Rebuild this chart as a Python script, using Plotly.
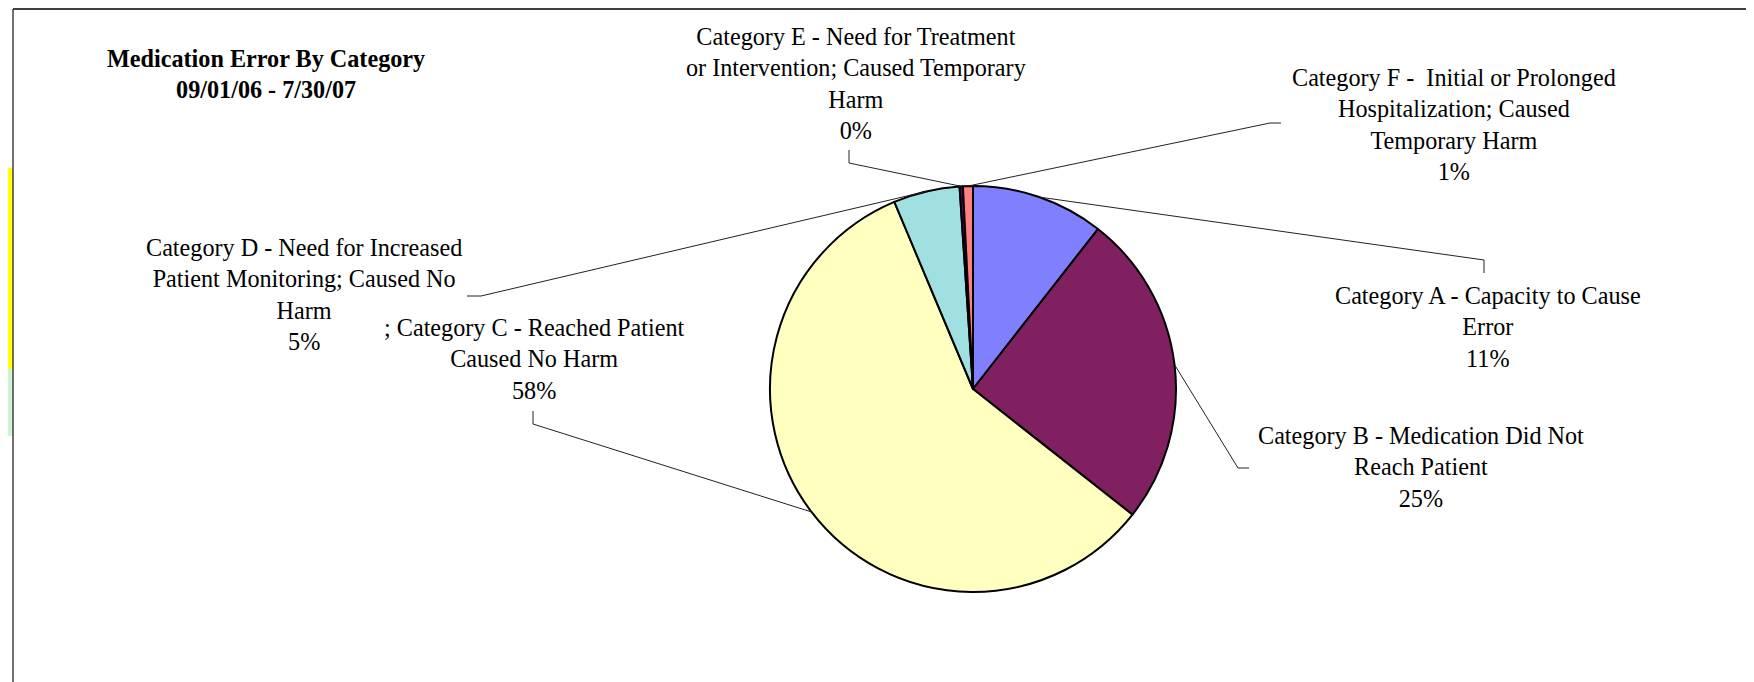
import math
import plotly.graph_objects as go

# DATA
categories = ["Category A", "Category B", "Category C", "Category D", "Category E", "Category F"]
label_text = [
    "Category A - Capacity to Cause<br>Error",
    "Category B - Medication Did Not<br>Reach Patient",
    "; Category C - Reached Patient<br>Caused No Harm",
    "Category D - Need for Increased<br>Patient Monitoring; Caused No<br>Harm",
    "Category E - Need for Treatment<br>or Intervention; Caused Temporary<br>Harm",
    "Category F - \u00a0Initial or Prolonged<br>Hospitalization; Caused<br>Temporary Harm",
]
error_counts = [40, 95, 220, 20, 1, 3]
slice_colors = ["#8080FF", "#802060", "#FFFFC0", "#A0E0E0", "#600060", "#FF8080"]

W, H = 1754, 682
PAGE_OFF = 8  # browser body margin
FONT = "Liberation Serif, Times New Roman, serif"
FSIZE = 24.2

# pie geometry in window pixels
CX, CY, R = 973, 389, 203

def px(x):
    return (x - PAGE_OFF) / W

def py(y):
    return 1 - (y - PAGE_OFF) / H

# label centre, leader elbow, leader end (window pixels)
label_pos = [(1488, 327), (1421, 467), (534, 359), (304, 294), (856, 83), (1454, 125)]
leader = [
    ((1484, 260), (1484, 273)),
    ((1238, 468), (1249, 468)),
    ((533, 424), (533, 411)),
    ((481, 296), (467, 296)),
    ((849, 163), (849, 150)),
    ((1270, 123), (1281, 123)),
]

fig = go.Figure(go.Pie(
    labels=categories,
    values=error_counts,
    sort=False,
    direction="clockwise",
    rotation=0,
    textinfo="none",
    hoverinfo="label+percent",
    marker=dict(colors=slice_colors, line=dict(color="black", width=2)),
    domain=dict(x=[px(CX - R), px(CX + R)], y=[py(CY + R), py(CY - R)]),
    showlegend=False,
))

total = sum(error_counts)
start = 0.0
shapes = []
annotations = []
for i, v in enumerate(error_counts):
    ang = math.radians((start + v / 2) / total * 360)
    start += v
    ax, ay = CX + R * math.sin(ang), CY - R * math.cos(ang)
    (ex, ey), (tx, ty) = leader[i]
    shapes.append(dict(
        type="path", xref="paper", yref="paper",
        path=f"M {px(ax)} {py(ay)} L {px(ex)} {py(ey)} L {px(tx)} {py(ty)}",
        line=dict(color="#222222", width=1),
    ))
    pct = round(v / total * 100)
    annotations.append(dict(
        x=px(label_pos[i][0]), y=py(label_pos[i][1]), xref="paper", yref="paper",
        text=f"{label_text[i]}<br>{pct}%", showarrow=False,
        xanchor="center", yanchor="middle", align="center",
        font=dict(family=FONT, size=FSIZE, color="black"),
    ))

annotations.append(dict(
    x=px(266), y=py(74), xref="paper", yref="paper",
    text="<b>Medication Error By Category<br>09/01/06 - 7/30/07</b>",
    showarrow=False, xanchor="center", yanchor="middle", align="center",
    font=dict(family=FONT, size=FSIZE, color="black"),
))

# frame and the coloured strips on the left edge
shapes += [
    dict(type="rect", xref="paper", yref="paper", x0=px(8), x1=px(13), y0=py(369), y1=py(168),
         fillcolor="#FFFF00", line=dict(width=0)),
    dict(type="rect", xref="paper", yref="paper", x0=px(8), x1=px(13), y0=py(436), y1=py(369),
         fillcolor="#CCF5D0", line=dict(width=0)),
    dict(type="line", xref="paper", yref="paper", x0=px(13), x1=1, y0=py(9), y1=py(9),
         line=dict(color="#404040", width=2)),
    dict(type="line", xref="paper", yref="paper", x0=px(13), x1=px(13), y0=0, y1=py(9),
         line=dict(color="#404040", width=1.5)),
]

fig.update_layout(
    width=W, height=H,
    margin=dict(l=0, r=0, t=0, b=0),
    paper_bgcolor="white", plot_bgcolor="white",
    shapes=shapes, annotations=annotations,
)

fig.write_html("out.html")
